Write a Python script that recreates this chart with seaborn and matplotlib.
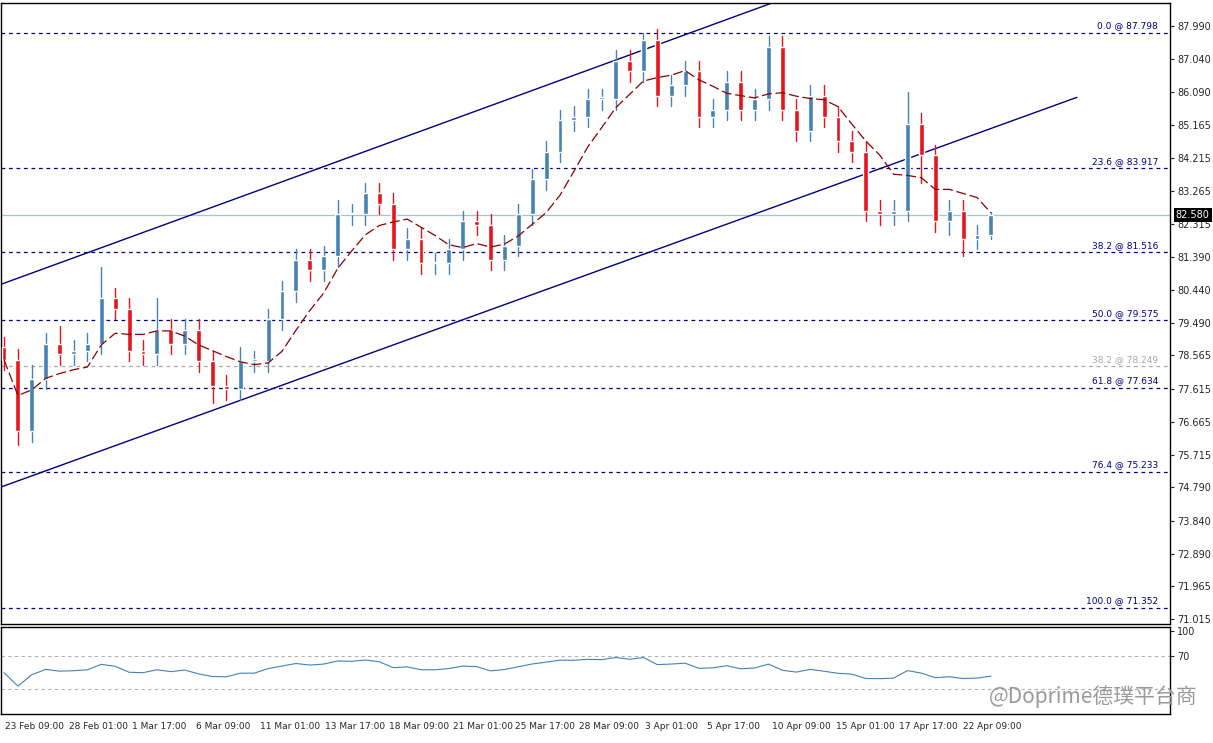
import matplotlib
matplotlib.use("Agg")
import matplotlib.pyplot as plt
import seaborn as sns
import numpy as np
import pandas as pd

closes = [78.44,76.4,77.9,78.9,78.6,78.7,78.9,80.2,79.9,78.7,78.6,79.3,78.9,79.3,78.4,77.7,
          77.6,78.4,78.4,79.6,80.4,81.3,81.0,81.4,82.6,82.6,83.2,82.9,81.6,81.9,81.2,81.2,
          81.6,82.4,82.3,81.3,81.7,82.6,83.6,84.4,85.3,85.4,85.9,85.9,87.0,86.7,87.6,86.0,
          86.3,86.7,85.4,85.6,86.4,85.6,85.9,87.4,85.6,85.0,86.0,85.4,84.7,84.4,82.7,82.6,
          82.7,85.2,84.3,82.4,82.7,81.9,82.0,82.58]
first_open = 78.8
upper_wick = [0.3,0.3,0.4,0.3,0.5,0.3,0.3,0.9, 0.3,0.3,0.3,0.9,0.3,0.3,0.3,0.3,
              0.3,0.4,0.3,0.3,0.3,0.3,0.3,0.3, 0.4,0.3,0.3,0.3,0.3,0.3,0.3,0.3,
              0.3,0.3,0.3,0.3,0.3,0.3,0.3,0.3, 0.3,0.3,0.3,0.3,0.3,0.3,0.2,0.3,
              0.3,0.3,0.3,0.3,0.3,0.3,0.3,0.3, 0.3,0.3,0.3,0.3,0.3,0.3,0.3,0.3,
              0.3,0.9,0.3,0.3,0.3,0.3,0.3,0.1]
lower_wick = [0.3,0.4,0.3,0.3,0.3,0.3,0.3,0.3, 0.3,0.3,0.3,0.3,0.3,0.3,0.3,0.5,
              0.3,0.3,0.3,0.3,0.3,0.3,0.3,0.3, 0.3,0.3,0.3,0.3,0.3,0.3,0.3,0.3,
              0.3,0.3,0.3,0.3,0.3,0.3,0.3,0.3, 0.3,0.3,0.3,0.3,0.3,0.3,0.3,0.3,
              0.3,0.3,0.3,0.3,0.3,0.3,0.3,0.3, 0.3,0.3,0.3,0.3,0.3,0.3,0.3,0.3,
              0.3,0.3,0.8,0.3,0.4,0.5,0.3,0.1]
fib_pct = ["0.0","23.6","38.2","50.0","61.8","76.4","100.0"]
fib_val = [87.798,83.917,81.516,79.575,77.634,75.233,71.352]
fib2_pct, fib2_val = "38.2", 78.249
current = 82.580
yticks = [87.990,87.040,86.090,85.165,84.215,83.265,82.315,81.390,80.440,79.490,78.565,
          77.615,76.665,75.715,74.790,73.840,72.890,71.965,71.015]
xlabels = ["23 Feb 09:00","28 Feb 01:00","1 Mar 17:00","6 Mar 09:00","11 Mar 01:00",
           "13 Mar 17:00","18 Mar 09:00","21 Mar 01:00","25 Mar 17:00","28 Mar 09:00",
           "3 Apr 01:00","5 Apr 17:00","10 Apr 09:00","15 Apr 01:00","17 Apr 17:00","22 Apr 09:00"]
xlabel_bar = [0.3,4.9,9.4,14.0,18.6,23.3,27.9,32.5,37.0,41.6,46.3,50.8,55.5,60.1,64.6,69.2]
upper_chan = [(0, 80.6), (56.5, 88.8)]
lower_chan = [(0, 74.8), (77.4, 85.95)]

sns.set_style("white")
n = len(closes)
opens = [first_open] + closes[:-1]
spacing = 13.9
xs = np.arange(n) * spacing + 3

fig = plt.figure(figsize=(12.13, 7.43), dpi=100)
W, H = 1213, 743
ax = fig.add_axes([1/W, (H-624)/H, 1169/W, 621/H])
ax2 = fig.add_axes([1/W, (H-714)/H, 1169/W, 87/H])
ax.set_xlim(0, 1169); ax2.set_xlim(0, 1169)
ax.set_ylim(70.88, 88.65)

for i in range(n):
    o, c = opens[i], closes[i]
    col = "#4682B4" if c >= o else "#E8141B"
    hi = max(o, c) + upper_wick[i]; lo = min(o, c) - lower_wick[i]
    ax.plot([xs[i], xs[i]], [lo, hi], color=col, lw=1, zorder=3)
    ax.bar(xs[i], max(abs(c-o), 0.05), bottom=min(o, c), width=spacing*0.35, color=col, zorder=4)

ma = pd.Series(closes).rolling(6, min_periods=1).mean()
ax.plot(xs, ma, color="#8B0000", lw=0.9, ls=(0, (8, 3)), zorder=5)

for p, v in zip(fib_pct, fib_val):
    ax.axhline(v, color="#000080", lw=0.9, ls=(0, (3, 3)))
    ax.text(1157, v+0.07, f"{p} @ {v:.3f}", color="#000080", fontsize=6.5, ha="right", va="bottom")
ax.axhline(fib2_val, color="#A9A9A9", lw=0.9, ls=(0, (3, 3)))
ax.text(1157, fib2_val+0.07, f"{fib2_pct} @ {fib2_val:.3f}", color="#A9A9A9", fontsize=6.5, ha="right", va="bottom")
ax.axhline(current, color="#9FC5D5", lw=0.9)

for ch in (upper_chan, lower_chan):
    ax.plot([ch[0][0]*spacing, ch[1][0]*spacing], [ch[0][1], ch[1][1]], color="#000080", lw=1)

ax.yaxis.tick_right()
ax.set_yticks(yticks)
ax.set_yticklabels([f"{v:.3f}" for v in yticks], fontsize=7)
ax.tick_params(axis="y", length=3, pad=2)
ax.set_xticks([])
ax.text(1.005, (current-70.88)/(88.65-70.88), f"{current:.3f}", transform=ax.transAxes, fontsize=7,
        color="white", va="center", ha="left", bbox=dict(facecolor="black", pad=1.5, edgecolor="none"), zorder=10)
for sp in ax.spines.values():
    sp.set_color("black"); sp.set_linewidth(1)

# RSI indicator
d = pd.Series(closes).diff().fillna(0)
up = d.clip(lower=0).ewm(alpha=1/14, adjust=False).mean() + 0.15
dn = (-d.clip(upper=0)).ewm(alpha=1/14, adjust=False).mean() + 0.15
rsi = 100 - 100/(1 + up/dn)
sns.lineplot(x=xs, y=rsi.values, ax=ax2, color="#4682B4", lw=0.8)
ax2.set_ylim(0, 105)
ax2.axhline(70, color="#B0B0B0", lw=0.8, ls=(0, (3, 3)))
ax2.axhline(30, color="#B0B0B0", lw=0.8, ls=(0, (3, 3)))
ax2.yaxis.tick_right()
ax2.set_yticks([100, 70]); ax2.set_yticklabels(["100", "70"], fontsize=7)
ax2.tick_params(axis="y", length=3, pad=2)
ax2.set_xticks([x*spacing for x in xlabel_bar])
ax2.set_xticklabels(xlabels, fontsize=6.5, ha="left")
ax2.tick_params(axis="x", length=4, pad=2)
ax2.set_ylabel("")
for sp in ax2.spines.values():
    sp.set_color("black"); sp.set_linewidth(1)

fig.text(1198/W, 1-697/H, "@Doprime德璞平台商", fontsize=15, color="#9A9A9A", ha="right", va="center",
         fontfamily="Noto Sans CJK SC", zorder=20)
fig.savefig("out.png", dpi=100)
